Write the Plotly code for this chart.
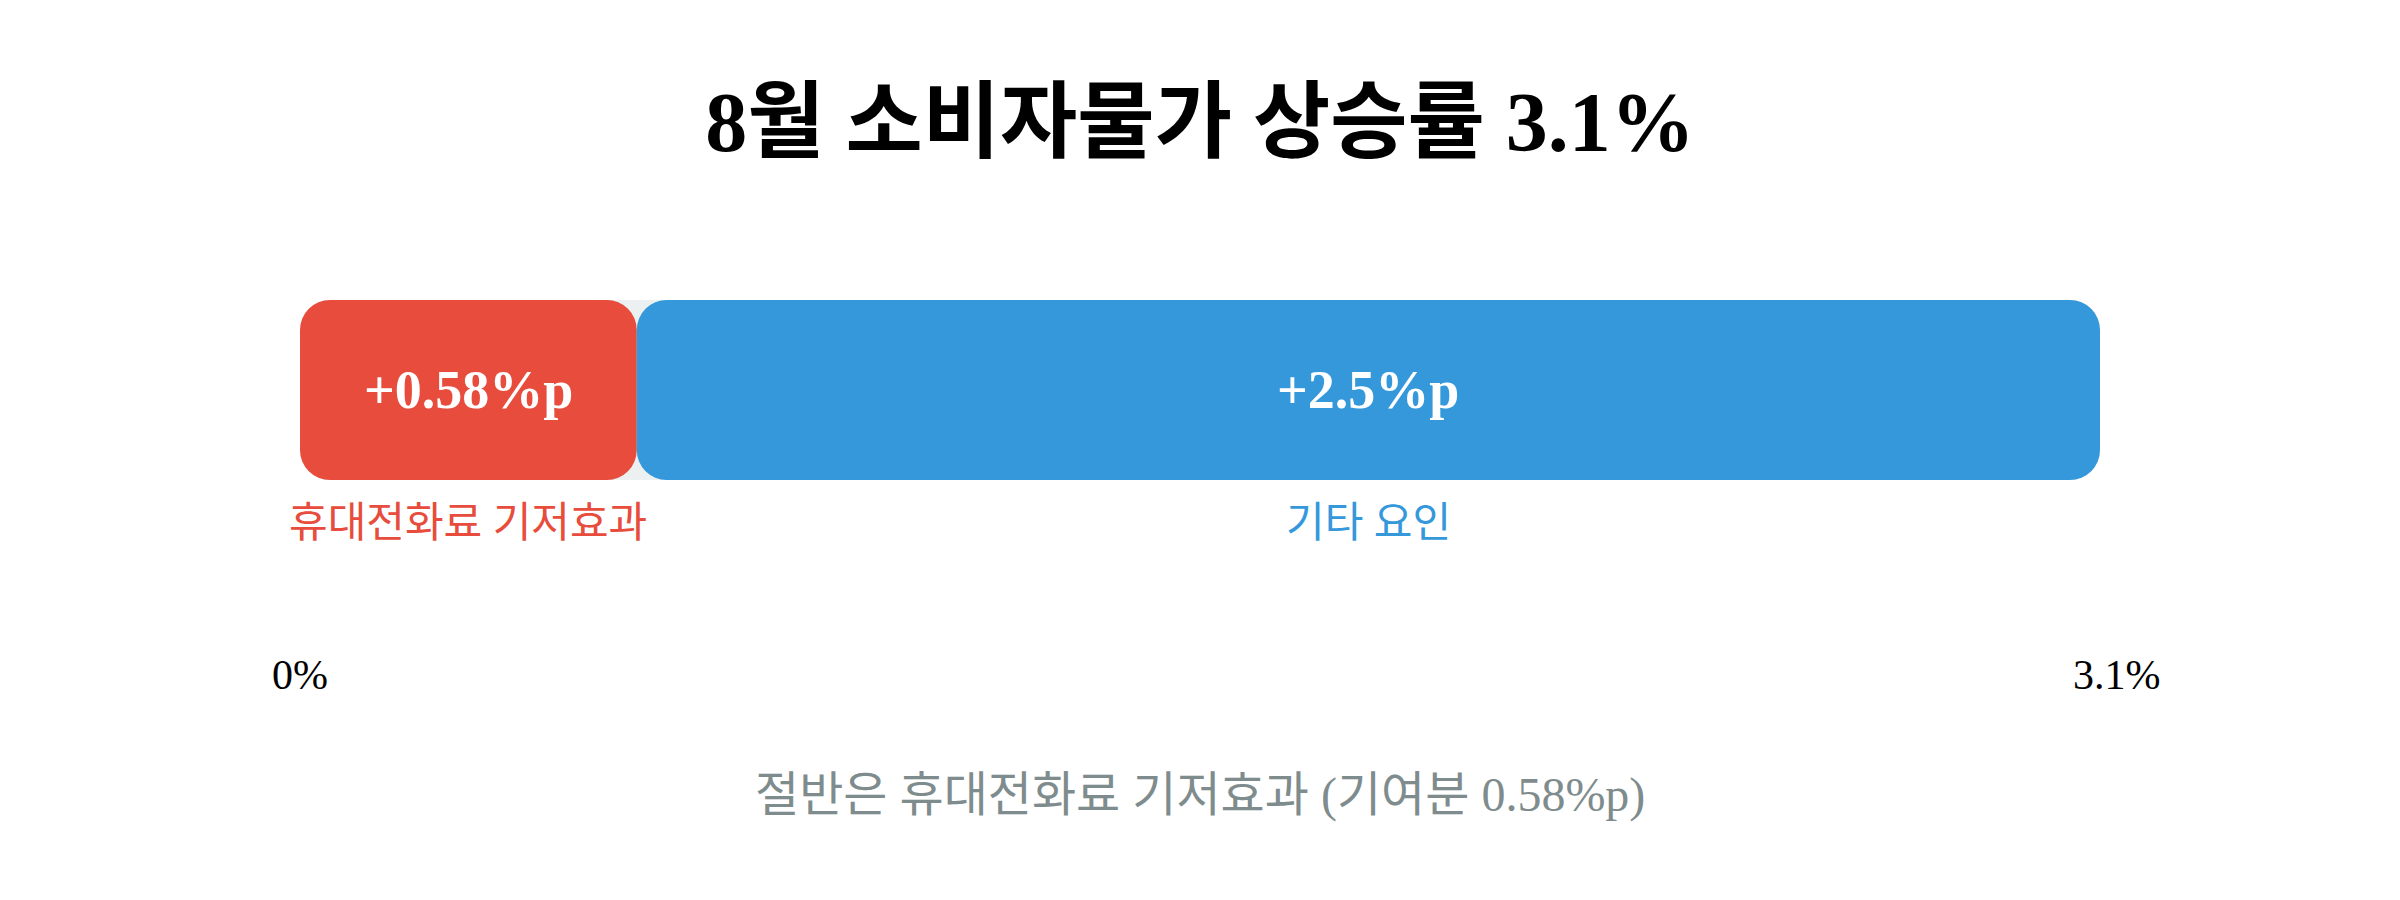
import plotly.graph_objects as go

# ---- data ----
title_text = "8월 소비자물가 상승률 3.1%"
total_rate = 3.1
segment_names = ["휴대전화료 기저효과", "기타 요인"]
segment_values = [0.58, 2.52]
segment_labels = ["+0.58%p", "+2.5%p"]
tick_values = [0, 3.1]
tick_labels = ["0%", "3.1%"]
footnote = "절반은 휴대전화료 기저효과 (기여분 0.58%p)"

# ---- style ----
colors = ["#e74c3c", "#3498db"]
track_color = "#ecf0f1"
font_family = "Liberation Serif, Noto Sans CJK KR, serif"
radius = 30
tick_label_xshift = [0, 17]

fig = go.Figure()


def rounded_segment(start, length, color):
    fig.add_trace(go.Bar(
        y=[0], x=[length], base=[start], orientation="h",
        width=1, marker=dict(color=color, cornerradius=radius, line=dict(width=0)),
        hoverinfo="skip", showlegend=False))


# background track
rounded_segment(0, total_rate, track_color)

start = 0
for name, val, lab, col in zip(segment_names, segment_values, segment_labels, colors):
    rounded_segment(start, val, col)
    mid = start + val / 2
    fig.add_annotation(x=mid, y=0, text=f"<b>{lab}</b>", showarrow=False,
                       font=dict(family=font_family, size=54, color="white"),
                       xanchor="center", yanchor="middle")
    fig.add_annotation(x=mid, y=-0.5, text=name, showarrow=False,
                       font=dict(family=font_family, size=42, color=col),
                       xanchor="center", yanchor="middle", yshift=-43)
    start += val

# scale labels
for tv, tl, sh in zip(tick_values, tick_labels, tick_label_xshift):
    fig.add_annotation(x=tv, xref="x", y=0, yref="paper", text=tl, showarrow=False,
                       font=dict(family=font_family, size=42, color="black"),
                       xanchor="center", yanchor="middle", xshift=sh, yshift=-30)

fig.add_annotation(x=0.5, xref="paper", y=-0.435, yref="paper", text=footnote,
                   showarrow=False, font=dict(family=font_family, size=48, color="#7f8c8d"),
                   xanchor="center", yanchor="middle")

fig.update_layout(
    width=2400, height=900,
    barmode="overlay",
    paper_bgcolor="white", plot_bgcolor="white",
    margin=dict(l=292, r=308, t=292, b=263),
    title=dict(text=f"<b>{title_text}</b>", x=(1200 - 8) / 2400, xanchor="center",
               y=1 - 114 / 900, yanchor="middle", yref="container",
               font=dict(family=font_family, size=84, color="black")),
    xaxis=dict(range=[0, total_rate], showticklabels=False,
               showgrid=False, zeroline=False, showline=False, ticks="",
               fixedrange=True),
    yaxis=dict(range=[-1.4167, 0.5], visible=False, fixedrange=True),
    showlegend=False,
)

fig.write_html("out.html")
